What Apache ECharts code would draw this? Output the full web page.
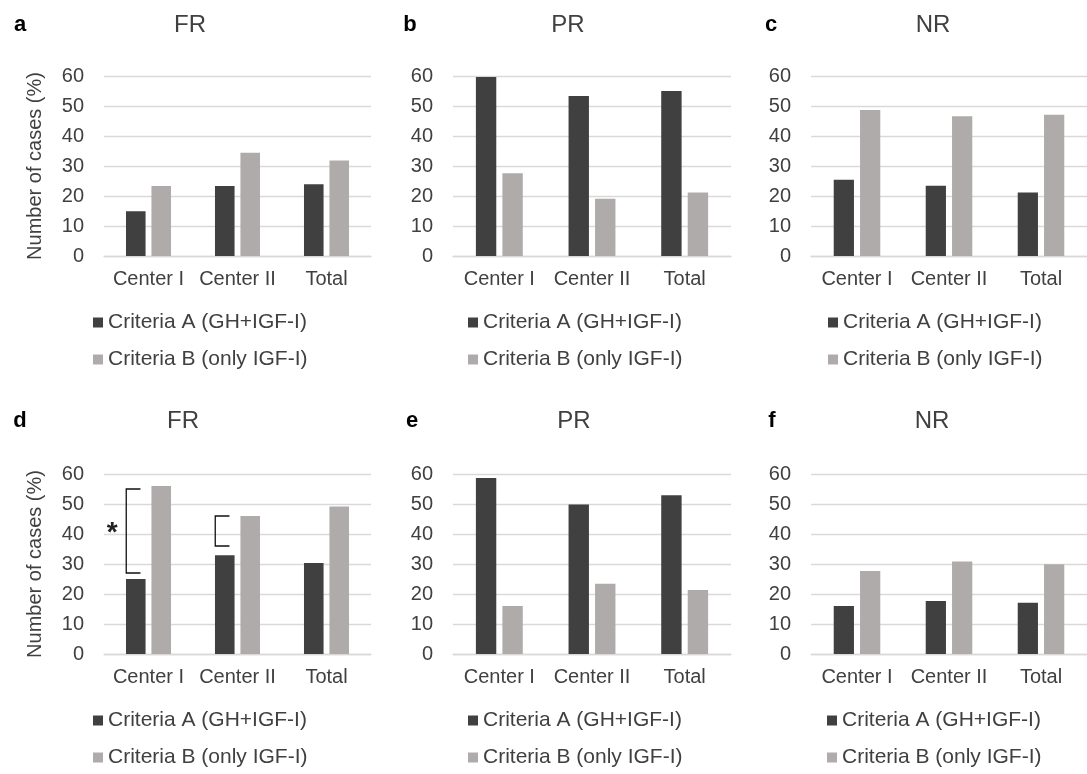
<!DOCTYPE html>
<html><head><meta charset="utf-8">
<script src="https://cdn.jsdelivr.net/npm/echarts@6/dist/echarts.min.js"></script>
<style>html,body{margin:0;padding:0;background:#fff}#c{width:1087px;height:774px}</style>
</head><body><div id="c"></div>
<script>
const categories = ['Center I', 'Center II', 'Total'];
const seriesNames = ['Criteria A (GH+IGF-I)', 'Criteria B (only IGF-I)'];
const panelLetters = ['a', 'b', 'c', 'd', 'e', 'f'];
const panelTitles = ['FR', 'PR', 'NR', 'FR', 'PR', 'NR'];
const yTicks = [0, 10, 20, 30, 40, 50, 60];
const yName = 'Number of cases (%)';
const criteriaA = [
  [14.9, 23.3, 23.9],
  [59.7, 53.3, 55.0],
  [25.4, 23.4, 21.2],
  [25.0, 32.9, 30.3],
  [58.7, 49.8, 52.9],
  [16.0, 17.7, 17.1]
];
const criteriaB = [
  [23.3, 34.4, 31.8],
  [27.6, 19.1, 21.2],
  [48.7, 46.6, 47.1],
  [56.0, 46.0, 49.2],
  [16.0, 23.4, 21.3],
  [27.7, 30.8, 29.9]
];
// significance brackets in panel d: [category index, low value, high value, starred]
const bracketsD = [[0, 27, 55, 1], [1, 36, 46, 0]];

const FONT = 'Liberation Sans, Arial, sans-serif';
const TXT = '#404040';
const DARK = '#404040';
const LIGHT = '#afabab';
const GRIDC = '#d9d9d9';

const layout = [
  {left: 104, top: 76, width: 267, lx: 93, ly: 312, tx: 190, ty: 25, px: 20, py: 25},
  {left: 453, top: 76, width: 278, lx: 468, ly: 312, tx: 568, ty: 25, px: 410, py: 25},
  {left: 811, top: 76, width: 276, lx: 828, ly: 312, tx: 933, ty: 25, px: 771, py: 25},
  {left: 104, top: 474, width: 267, lx: 93, ly: 710, tx: 183, ty: 421, px: 20, py: 421},
  {left: 453, top: 474, width: 278, lx: 468, ly: 710, tx: 574, ty: 421, px: 412, py: 421},
  {left: 811, top: 474, width: 276, lx: 827, ly: 710, tx: 932, ty: 421, px: 772, py: 421}
];

const grids = [], xAxes = [], yAxes = [], series = [], titles = [], legends = [];
layout.forEach((L, i) => {
  grids.push({left: L.left, top: L.top, width: L.width, height: 180});
  xAxes.push({
    type: 'category', gridIndex: i, data: categories,
    axisLine: {lineStyle: {color: GRIDC, width: 1.3}}, axisTick: {show: false},
    axisLabel: {color: TXT, fontFamily: FONT, fontSize: 20, margin: 13, interval: 0}
  });
  yAxes.push({
    type: 'value', gridIndex: i, min: yTicks[0], max: yTicks[yTicks.length - 1], interval: 10,
    axisLine: {show: false}, axisTick: {show: false},
    splitLine: {lineStyle: {color: GRIDC, width: 1.3}},
    axisLabel: {color: TXT, fontFamily: FONT, fontSize: 20, margin: 20},
    name: (i % 3 === 0) ? yName : '', nameLocation: 'middle', nameRotate: 90, nameGap: 59,
    nameTextStyle: {color: TXT, fontFamily: FONT, fontSize: 20}
  });
  series.push({
    type: 'bar', name: seriesNames[0], xAxisIndex: i, yAxisIndex: i, data: criteriaA[i],
    barWidth: '22%', barGap: '30%', itemStyle: {color: DARK}
  });
  series.push({
    type: 'bar', name: seriesNames[1], xAxisIndex: i, yAxisIndex: i, data: criteriaB[i],
    barWidth: '22%', barGap: '30%', itemStyle: {color: LIGHT}
  });
  titles.push({
    text: panelTitles[i], left: L.tx, top: L.ty, textAlign: 'center', textVerticalAlign: 'middle',
    padding: 0,
    textStyle: {color: TXT, fontFamily: FONT, fontSize: 24, fontWeight: 'normal'}
  });
  titles.push({
    text: panelLetters[i], left: L.px, top: L.py, textAlign: 'center', textVerticalAlign: 'middle',
    padding: 0,
    textStyle: {color: '#000', fontFamily: FONT, fontSize: 22, fontWeight: 'bold'}
  });
  legends.push({
    data: seriesNames, orient: 'vertical', left: L.lx, top: L.ly, padding: 0, height: 70,
    itemWidth: 10, itemHeight: 10, itemGap: 16, icon: 'rect', selectedMode: false,
    textStyle: {color: TXT, fontFamily: FONT, fontSize: 21, lineHeight: 20}
  });
});

series.push({
  type: 'custom', xAxisIndex: 3, yAxisIndex: 3, data: bracketsD, clip: false, z: 10,
  silent: true,
  renderItem: function (params, api) {
    const c = api.value(0), lo = api.value(1), hi = api.value(2), star = api.value(3);
    const band = api.size([1, 0])[0];
    const pLo = api.coord([c, lo]);
    const pHi = api.coord([c, hi]);
    const x = pLo[0] - band * 0.25;
    const xe = pLo[0] - band * 0.09;
    const children = [{
      type: 'polyline',
      shape: {points: [[xe, pHi[1]], [x, pHi[1]], [x, pLo[1]], [xe, pLo[1]]]},
      style: {stroke: '#111', lineWidth: 1.3, fill: null}
    }];
    if (star) {
      children.push({
        type: 'text',
        style: {text: '*', x: x - 14, y: (pLo[1] + pHi[1]) / 2 + 2, fill: '#222',
          font: 'bold 28px ' + FONT, textAlign: 'center', textVerticalAlign: 'middle'}
      });
    }
    return {type: 'group', children: children};
  }
});

const chart = echarts.init(document.getElementById('c'), null, {renderer: 'canvas'});
chart.setOption({
  animation: false,
  backgroundColor: '#fff',
  title: titles,
  legend: legends,
  grid: grids,
  xAxis: xAxes,
  yAxis: yAxes,
  series: series
});
</script></body></html>
